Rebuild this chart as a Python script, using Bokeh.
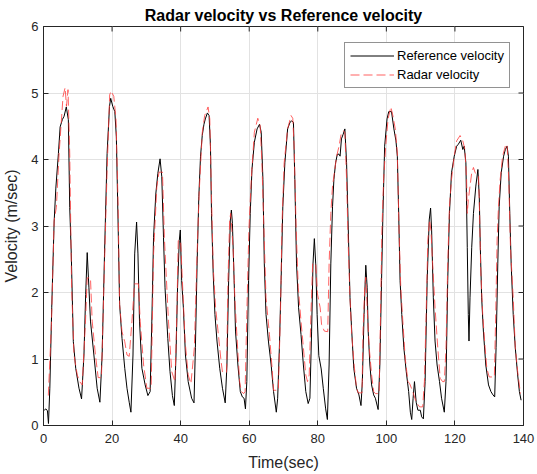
import math
from bokeh.plotting import figure
from bokeh.models import Range1d, Legend, LegendItem, FixedTicker, Title
from bokeh.embed import file_html
from bokeh.resources import INLINE

# ---- data ----
ref_time = [0.2, 0.7, 1.15, 1.45, 1.85, 2.4, 3.1, 3.6, 4.35, 4.85, 5.5, 6.0, 6.65, 7.25, 7.65, 8.1, 8.7, 9.4,
            10.35, 11.1, 11.8, 12.3, 12.75, 13.25, 13.7, 14.7, 15.65, 16.45, 17.1, 17.8, 18.55, 19.25, 19.6,
            20.2, 20.8, 21.25, 21.75, 22.2, 22.9, 23.7, 24.35, 25.0, 25.5, 26.1, 26.6, 27.15, 27.55, 28.0,
            28.7, 29.65, 30.45, 31.1, 31.6, 32.1, 32.75, 33.35, 34.0, 34.5, 35.0, 35.45, 36.25, 36.9, 37.6,
            38.15, 38.65, 39.1, 39.6, 39.9, 40.3, 40.8, 41.4, 42.2, 43.2, 43.9, 44.3, 44.8, 45.3, 45.8, 46.3,
            46.8, 47.2, 47.8, 48.3, 48.7, 49.0, 49.5, 50.0, 50.6, 51.4, 52.2, 53.0, 53.5, 54.0, 54.5, 54.8,
            55.1, 55.6, 56.0, 56.7, 57.4, 58.0, 58.5, 58.9, 59.3, 59.8, 60.3, 60.8, 61.5, 62.3, 63.0, 63.5,
            64.0, 64.4, 64.9, 65.6, 66.4, 67.1, 67.9, 68.3, 68.8, 69.3, 69.8, 70.4, 71.2, 71.9, 72.4, 72.9,
            73.3, 73.8, 74.4, 75.1, 75.8, 76.5, 77.2, 77.7, 78.2, 78.6, 79.0, 79.4, 79.8, 80.3, 81.0, 81.6,
            82.3, 82.8, 83.3, 83.8, 84.3, 84.7, 85.2, 85.7, 86.2, 86.5, 86.9, 87.4, 87.9, 88.4, 88.9, 89.4,
            89.9, 90.5, 91.3, 92.0, 92.6, 93.0, 93.5, 94.0, 94.4, 94.7, 95.2, 95.7, 96.3, 96.8, 97.6, 98.1,
            98.6, 99.0, 99.5, 100.2, 100.7, 101.5, 102.2, 102.8, 103.2, 103.6, 104.0, 104.5, 105.1, 105.8,
            106.5, 107.0, 107.4, 107.8, 108.2, 108.7, 109.2, 109.9, 110.3, 110.8, 111.3, 111.9, 112.5, 112.9,
            113.2, 113.7, 114.2, 114.8, 115.5, 116.1, 116.9, 117.4, 117.9, 118.4, 119.0, 119.8, 120.5, 121.0,
            121.7, 122.3, 122.7, 123.2, 123.6, 123.9, 124.1, 124.4, 124.9, 125.4, 126.1, 126.7, 127.1, 127.4,
            127.8, 128.3, 129.0, 129.8, 130.5, 131.1, 131.6, 132.0, 132.5, 132.9, 133.5, 134.2, 134.7, 135.2,
            135.6, 136.0, 136.4, 137.0, 137.6, 138.3, 138.8, 139.3]
ref_velocity = [0.23, 0.25, 0.22, 0.03, 0.56, 1.77, 3.06, 3.57, 4.09, 4.49, 4.6, 4.65, 4.79, 4.6, 3.28, 2.58, 1.26, 0.86,
                0.56, 0.4, 1.06, 1.97, 2.6, 2.07, 1.57, 1.06, 0.56, 0.35, 1.06, 2.58, 4.09, 4.8, 4.92,
                4.8, 4.72, 4.34, 3.06, 1.82, 1.31, 0.86, 0.56, 0.35, 0.2, 1.06, 2.58, 3.06, 2.58, 1.57,
                0.86, 0.61, 0.45, 0.51, 1.57, 2.83, 3.48, 3.79, 4.01, 3.74, 2.83, 2.07, 1.31, 0.81, 0.45,
                0.3, 1.06, 2.07, 2.78, 2.94, 2.18, 1.77, 1.06, 0.66, 0.41, 0.34, 1.17, 2.43, 3.44, 4.05, 4.36,
                4.53, 4.61, 4.7, 4.66, 4.2, 3.19, 2.28, 1.67, 1.27, 0.86, 0.56, 0.34, 0.91, 2.18, 3.09, 3.24,
                3.04, 2.18, 1.42, 0.91, 0.51, 0.43, 0.41, 0.25, 0.66, 2.18, 3.19, 3.85, 4.26, 4.46, 4.53, 4.41,
                3.7, 2.43, 1.67, 1.27, 0.91, 0.51, 0.2, 0.41, 1.17, 2.18, 3.29, 3.95, 4.46, 4.56, 4.58, 4.56,
                3.7, 2.43, 1.77, 1.37, 0.91, 0.51, 0.33, 0.41, 1.42, 2.43, 2.81, 2.43, 1.67, 1.05, 0.85, 0.56,
                0.25, 0.09, 0.91, 2.43, 3.29, 3.7, 3.95, 4.08, 4.08, 4.05, 4.31, 4.38, 4.46, 3.95, 2.94, 1.92,
                1.42, 0.86, 0.56, 0.46, 0.3, 0.66, 1.67, 2.41, 2.08, 1.42, 0.91, 0.61, 0.46, 0.41, 0.24, 0.91,
                2.18, 3.19, 4.2, 4.61, 4.72, 4.72, 4.46, 4.28, 4.05, 3.19, 2.18, 1.67, 1.17, 0.81,
                0.51, 0.2, 0.09, 0.41, 0.66, 0.35, 0.23, 0.23, 0.13, 0.1, 0.66, 2.18, 3.09, 3.27,
                2.94, 1.92, 1.27, 0.91, 0.66, 0.41, 0.2, 0.66, 2.18, 3.19, 3.8, 4.05, 4.2, 4.23,
                4.29, 4.15, 4.2, 3.95, 2.68, 1.67, 1.27, 1.92, 2.68, 3.19, 3.6, 3.85, 3.44, 2.68,
                1.92, 1.42, 0.91, 0.61, 0.51, 0.46, 0.43, 1.17, 2.43, 3.29, 3.8, 4.05, 4.15, 4.2,
                4.05, 3.19, 2.43, 1.67, 1.17, 0.76, 0.51, 0.38]

radar_time = [1.4, 2.3, 3.1, 3.75, 4.55, 5.7, 6.3, 6.7, 7.15, 7.65, 8.2, 8.9, 9.85, 10.55, 11.3, 12.25, 12.75,
              13.7, 14.2, 15.15, 15.95, 16.9, 17.6, 18.55, 19.3, 19.7, 20.5, 21.15, 21.75, 22.2, 22.9, 23.7,
              24.35, 25.0, 25.8, 26.55, 27.7, 28.2, 29.2, 30.15, 31.4, 32.1, 33.05, 33.7, 34.7, 35.25, 36.45,
              37.4, 38.35, 38.85, 39.3, 40.0, 40.4, 41.3, 42.2, 43.0, 44.0, 44.7, 45.4, 46.3, 47.0, 48.0, 48.5,
              49.0, 49.5, 50.2, 51.0, 51.7, 52.2, 53.4, 53.8, 54.3, 54.6, 55.3, 55.8, 56.5, 57.2, 57.7, 58.4,
              58.8, 59.3, 59.9, 60.6, 61.5, 62.5, 63.2, 63.7, 64.3, 64.9, 65.9, 66.6, 67.1, 68.5, 69.1, 69.6,
              70.2, 71.2, 72.2, 72.7, 73.1, 73.7, 74.3, 75.1, 75.8, 76.5, 77.0, 77.5, 78.0, 78.5, 79.4, 79.9,
              80.7, 81.1, 81.9, 82.9, 83.3, 83.8, 84.3, 84.7, 85.5, 86.2, 86.8, 87.4, 87.9, 88.4, 88.9, 89.4,
              89.9, 90.6, 91.3, 91.8, 92.9, 93.2, 93.7, 94.0, 94.5, 95.0, 95.7, 96.3, 96.8, 97.9, 98.3, 98.7,
              99.2, 99.8, 100.5, 101.3, 101.9, 102.6, 103.2, 103.7, 104.2, 104.8, 105.5, 106.3, 106.8, 107.7,
              108.7, 109.7, 110.6, 111.1, 111.6, 112.1, 112.6, 113.0, 113.5, 114.2, 115.0, 115.7, 116.4, 116.9,
              117.4, 117.9, 118.4, 119.0, 119.8, 120.5, 121.5, 122.3, 122.9, 123.4, 123.6, 123.9, 124.4, 124.9,
              125.4, 125.9, 126.9, 127.2, 127.5, 128.1, 128.8, 129.3, 130.0, 131.5, 131.9, 132.3, 132.7, 133.2,
              133.9, 134.7, 135.2, 135.7, 136.2, 137.0, 137.6, 138.3, 139.1]
radar_velocity = [0.45, 1.5, 3.08, 3.28, 4.09, 4.95, 5.08, 4.8, 5.05, 4.09, 2.07, 1.06, 0.76, 0.66, 0.61, 1.57, 2.22,
                  2.22, 1.57, 1.06, 0.72, 0.72, 2.07, 3.84, 4.97, 5.03, 4.95, 4.6, 3.33, 1.82, 1.41, 1.26,
                  1.06, 1.04, 1.57, 2.13, 2.13, 1.57, 0.91, 0.56, 0.56, 2.58, 3.59, 3.81, 3.81, 2.83, 1.57,
                  0.81, 0.66, 1.57, 2.78, 2.78, 2.3, 1.27, 0.76, 0.63, 1.17, 2.43, 3.5, 4.4, 4.66, 4.79, 4.61,
                  3.44, 2.38, 1.77, 1.37, 1.01, 0.8, 0.8, 2.18, 3.09, 3.19, 2.68, 1.92, 1.27, 0.66, 0.51, 0.48,
                  0.51, 1.67, 2.94, 3.7, 4.41, 4.62, 4.51, 3.95, 2.94, 1.92, 1.37, 0.91, 0.53, 0.53, 1.67, 3.09,
                  3.95, 4.46, 4.66, 4.62, 4.2, 2.94, 2.08, 1.57, 1.17, 0.76, 0.66, 0.76, 1.67, 2.43, 2.44, 1.98,
                  1.77, 1.52, 1.42, 1.41, 2.43, 3.19, 3.6, 3.75, 4.05, 4.2, 4.38, 4.43, 4.41, 3.7, 2.68, 1.92,
                  1.37, 0.91, 0.56, 0.49, 0.49, 1.42, 2.08, 2.23, 1.67, 1.17, 0.76, 0.51, 0.48, 0.48, 1.67, 2.94,
                  3.7, 4.2, 4.61, 4.79, 4.66, 4.46, 4.1, 2.94, 2.08, 1.57, 1.01, 0.66, 0.63, 0.51,
                  0.35, 0.28, 0.28, 0.66, 1.67, 2.79, 3.09, 2.94, 2.43, 1.77, 1.17, 0.71, 0.66, 0.66,
                  1.17, 2.43, 3.29, 3.7, 4.05, 4.28, 4.36, 4.28, 4.15, 3.7, 3.19, 3.39, 3.6, 3.8,
                  3.88, 3.8, 3.75, 3.19, 2.38, 1.67, 1.17, 0.86, 0.73, 0.73, 1.67, 2.79, 3.29, 3.7,
                  4.05, 4.2, 4.23, 3.7, 2.68, 1.92, 1.17, 0.81, 0.48]

x_ticks = [0, 20, 40, 60, 80, 100, 120, 140]
y_ticks = [0, 1, 2, 3, 4, 5, 6]
title_text = "Radar velocity vs Reference velocity"
x_label = "Time(sec)"
y_label = "Velocity (m/sec)"
legend_labels = ["Reference velocity", "Radar velocity"]

FONT = "Liberation Sans"
DARK = "#262626"
X_MIN, X_MAX = x_ticks[0], x_ticks[-1]
Y_MIN, Y_MAX = y_ticks[0], y_ticks[-1]

p = figure(width=537, height=474, output_backend="svg", toolbar_location=None,
           x_range=Range1d(X_MIN, X_MAX), y_range=Range1d(Y_MIN, Y_MAX),
           min_border_left=43, min_border_right=14, min_border_top=26, min_border_bottom=49,
           title=None)
p.background_fill_color = "white"
p.border_fill_color = "white"
p.outline_line_color = DARK
p.outline_line_width = 1

p.add_layout(Title(text=title_text, align="center", text_font=FONT, text_font_size="16px",
                   text_font_style="bold", text_color="black", offset=-5, standoff=6), "above")

for ax in (p.xaxis[0], p.yaxis[0]):
    ax.major_label_text_font = FONT
    ax.major_label_text_font_size = "13px"
    ax.major_label_text_color = DARK
    ax.axis_label_text_font = FONT
    ax.axis_label_text_font_size = "16px"
    ax.axis_label_text_font_style = "normal"
    ax.axis_label_text_color = DARK
    ax.axis_line_color = DARK
    ax.major_tick_line_color = DARK
    ax.major_tick_in = 5
    ax.major_tick_out = 0
    ax.minor_tick_line_color = None

p.xaxis[0].ticker = FixedTicker(ticks=x_ticks)
p.yaxis[0].ticker = FixedTicker(ticks=y_ticks)
p.xaxis[0].axis_label = x_label
p.yaxis[0].axis_label = y_label
p.xaxis[0].major_label_standoff = 8
p.xaxis[0].axis_label_standoff = 8
p.yaxis[0].major_label_standoff = 5
p.yaxis[0].axis_label_standoff = 8

p.xgrid.ticker = FixedTicker(ticks=x_ticks)
p.ygrid.ticker = FixedTicker(ticks=y_ticks)
p.grid.grid_line_color = "#e2e2e2"
p.grid.grid_line_alpha = 1.0

# inward tick marks on the top and right edges of the box (clipped to the frame)
p.scatter(x=x_ticks, y=[Y_MAX] * len(x_ticks), marker="dash", size=10, angle=math.pi / 2,
          line_color=DARK, line_width=1)
p.scatter(x=[X_MAX] * len(y_ticks), y=y_ticks, marker="dash", size=10, angle=0,
          line_color=DARK, line_width=1)

r_ref = p.line(ref_time, ref_velocity, line_color="black", line_width=1.0)
r_rad = p.line(radar_time, radar_velocity, line_color="#ff3b3b", line_width=1.0, line_alpha=0.8,
               line_dash="9 4")

legend = Legend(items=[LegendItem(label=legend_labels[0], renderers=[r_ref]),
                       LegendItem(label=legend_labels[1], renderers=[r_rad])],
                location=(301, 337), label_text_font=FONT, label_text_font_size="13px",
                label_text_color="black", glyph_width=44, glyph_height=15, label_standoff=3,
                spacing=4, padding=5, margin=0, border_line_color=DARK, border_line_width=1,
                background_fill_color="white", background_fill_alpha=1)
p.add_layout(legend, "center")

open("out.html", "w").write(file_html(p, INLINE))
